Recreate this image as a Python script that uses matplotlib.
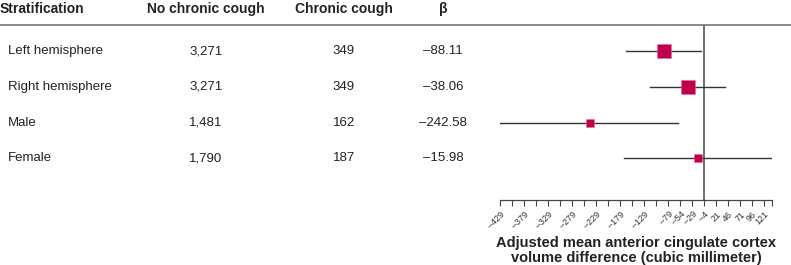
import numpy as np
import matplotlib
matplotlib.use('Agg')
import matplotlib.pyplot as plt
from matplotlib.lines import Line2D

plt.rcParams['font.family'] = ['Liberation Sans', 'DejaVu Sans']

# data
groups = ['Left hemisphere', 'Right hemisphere', 'Male', 'Female']
n_no_cough = ['3,271', '3,271', '1,481', '1,790']
n_cough = ['349', '349', '162', '187']
beta = [-88.11, -38.06, -242.58, -15.98]
ci_low = [-166, -117, -430, -172]
ci_high = [-11, 39, -58, 136]
box_size = [9.5, 9.5, 5.2, 6.2]  # marker size (pt), study weight

headers = ['Stratification', 'No chronic cough', 'Chronic cough', 'β']

W, H = 791, 265
fig = plt.figure(figsize=(W / 100, H / 100), dpi=100)

top_px, bot_px = 25, 200
ax = fig.add_axes([500 / W, 1 - bot_px / H, 272 / W, (bot_px - top_px) / H])
axt = fig.add_axes([0, 1 - bot_px / H, 500 / W, (bot_px - top_px) / H], sharey=ax)

rows = np.arange(len(groups))
ax.set_ylim(4.17, -0.73)

red = '#c0004e'
dark = '#222222'
for y, b, lo, hi, s in zip(rows, beta, ci_low, ci_high, box_size):
    ax.plot([lo, hi], [y, y], color='#333333', lw=1.0, zorder=2)
    ax.plot(b, y, marker='s', ms=s, color=red, mec='#e07090', mew=0.4, zorder=3)

ax.axvline(-4, color='#555555', lw=1.2, zorder=1)

ax.set_xlim(-429, 137)
ticks = list(np.arange(-429, 122, 25)) + [137]
labels = []
for t in ticks:
    if t > 121:
        labels.append('')
    elif t >= -79 or (t + 429) % 50 == 0:
        labels.append(str(t).replace('-', '\u2013'))
    else:
        labels.append('')
ax.set_xticks(ticks)
ax.set_xticklabels(labels, rotation=45, ha='right', rotation_mode='anchor',
                   fontsize=6.5, color='#333333')
ax.tick_params(axis='x', direction='out', length=4, width=0.8, color='#444444', pad=3)
ax.tick_params(axis='y', left=False, labelleft=False)
for sp in ['top', 'left', 'right']:
    ax.spines[sp].set_visible(False)
ax.spines['bottom'].set_color('#444444')
ax.spines['bottom'].set_linewidth(0.9)
ax.set_xlabel('Adjusted mean anterior cingulate cortex\nvolume difference (cubic millimeter)',
              fontsize=10.5, fontweight='bold', color=dark, linespacing=1.1)
ax.xaxis.set_label_coords(0.5, -(236 - bot_px) / (bot_px - top_px))
ax.patch.set_visible(False)

# table side
axt.set_xlim(0, 500)
axt.axis('off')
col_x = [0, 206, 344, 443]
aligns = ['left', 'center', 'center', 'center']
for x, h, a in zip(col_x, headers, aligns):
    axt.text(x, -1.18, h, ha=a, va='center', fontsize=10, fontweight='bold', color=dark)
for y, g, n0, n1, b in zip(rows, groups, n_no_cough, n_cough, beta):
    axt.text(8, y, g, ha='left', va='center', fontsize=9.5, color=dark)
    axt.text(col_x[1], y, n0, ha='center', va='center', fontsize=9.5, color=dark)
    axt.text(col_x[2], y, n1, ha='center', va='center', fontsize=9.5, color=dark)
    axt.text(col_x[3], y, f'{b:.2f}'.replace('-', '\u2013'), ha='center', va='center',
             fontsize=9.5, color=dark)

fig.add_artist(Line2D([0, 1], [1 - top_px / H] * 2, transform=fig.transFigure,
                      color='#777777', lw=1.2))

fig.savefig('out.png', dpi=100)
